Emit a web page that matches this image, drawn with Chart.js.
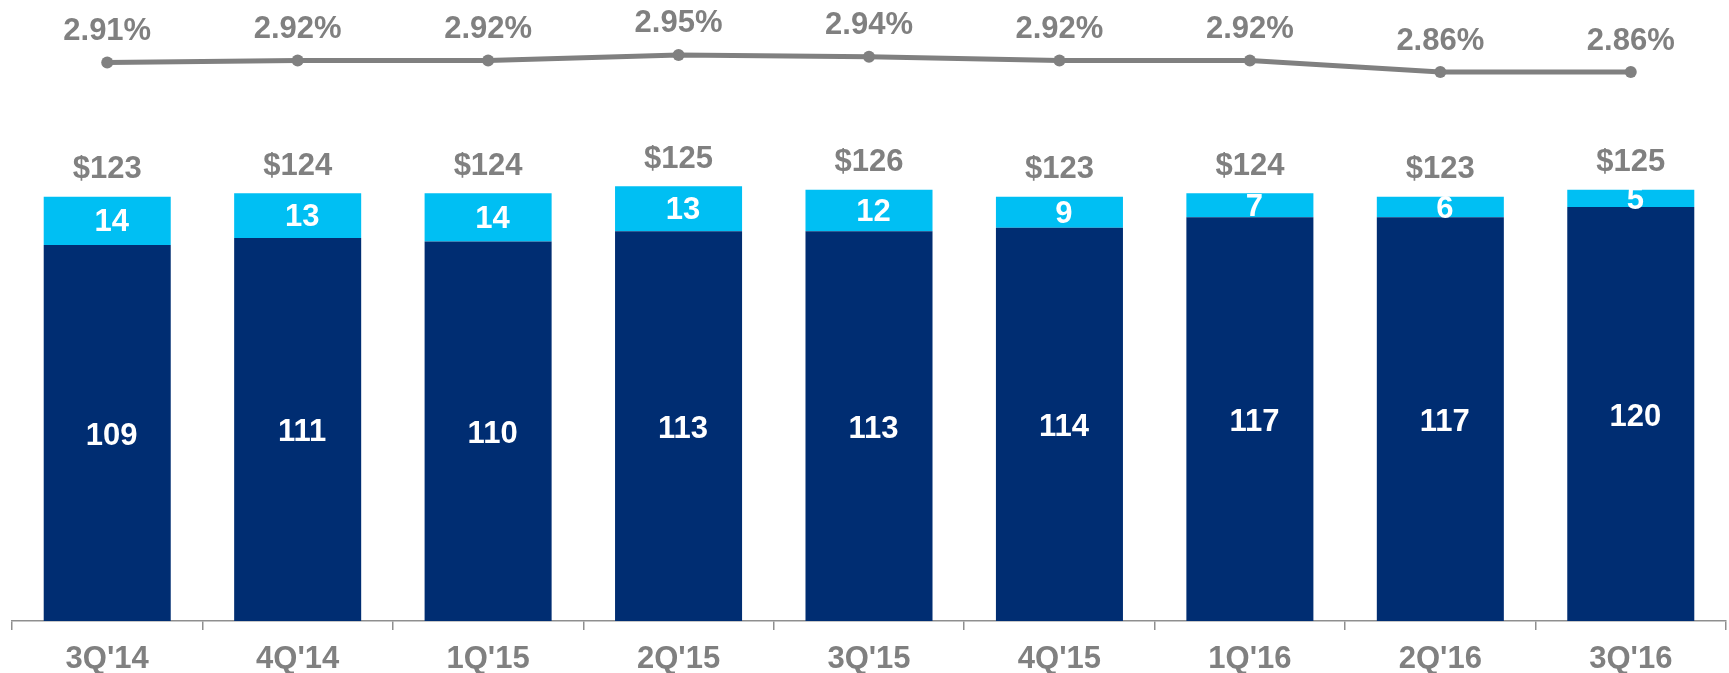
<!DOCTYPE html>
<html>
<head>
<meta charset="utf-8">
<script src="https://cdn.jsdelivr.net/npm/chart.js@4/dist/chart.umd.min.js"></script>
<style>
  html, body { margin: 0; padding: 0; background: #ffffff; overflow: hidden; }
  canvas { display: block; }
</style>
</head>
<body>
<canvas id="c" width="1729" height="673"></canvas>
<script>
// ---- Data ----
const categories = ["3Q'14", "4Q'14", "1Q'15", "2Q'15", "3Q'15", "4Q'15", "1Q'16", "2Q'16", "3Q'16"];
const darkValues = [109, 111, 110, 113, 113, 114, 117, 117, 120];
const lightValues = [14, 13, 14, 13, 12, 9, 7, 6, 5];
const totalLabels = [123, 124, 124, 125, 126, 123, 124, 123, 125];
const rateValues = [2.91, 2.92, 2.92, 2.95, 2.94, 2.92, 2.92, 2.86, 2.86];

// ---- Styles ----
const DARK = '#002D72';
const LIGHT = '#00BFF3';
const GRAY = '#808080';
const FONT_FAMILY = "'Liberation Sans', Arial, sans-serif";
const FONT_SIZE = 31;

const labelPlugin = {
  id: 'valueLabels',
  afterDatasetsDraw(chart) {
    const ctx = chart.ctx;
    const darkMeta = chart.getDatasetMeta(0);
    const lightMeta = chart.getDatasetMeta(1);
    const lineMeta = chart.getDatasetMeta(2);
    ctx.save();
    ctx.font = 'bold ' + FONT_SIZE + 'px ' + FONT_FAMILY;
    ctx.textAlign = 'center';
    ctx.textBaseline = 'middle';
    categories.forEach((c, i) => {
      const d = darkMeta.data[i];
      const l = lightMeta.data[i];
      const p = lineMeta.data[i];
      // segment labels (white)
      ctx.fillStyle = '#ffffff';
      ctx.fillText(String(darkValues[i]), d.x + 4.5, (d.y + d.base) / 2 + 3);
      ctx.fillText(String(lightValues[i]), l.x + 4.5, (l.y + l.base) / 2 + 2);
      // total labels (gray)
      ctx.fillStyle = GRAY;
      ctx.fillText('$' + totalLabels[i], l.x, l.y - 27);
      // rate labels
      ctx.fillText(rateValues[i].toFixed(2) + '%', p.x, p.y - 31);
    });
    ctx.restore();
  }
};

new Chart(document.getElementById('c'), {
  data: {
    labels: categories,
    datasets: [
      {
        type: 'bar',
        data: darkValues,
        backgroundColor: DARK,
        borderWidth: 0,
        yAxisID: 'y',
        stack: 's',
        order: 2,
        barPercentage: 1,
        categoryPercentage: 0.667
      },
      {
        type: 'bar',
        data: lightValues,
        backgroundColor: LIGHT,
        borderWidth: 0,
        yAxisID: 'y',
        stack: 's',
        order: 2,
        barPercentage: 1,
        categoryPercentage: 0.667
      },
      {
        type: 'line',
        data: rateValues,
        borderColor: GRAY,
        backgroundColor: GRAY,
        borderWidth: 5,
        pointRadius: 6,
        pointBackgroundColor: GRAY,
        pointBorderWidth: 0,
        tension: 0,
        fill: false,
        yAxisID: 'y1',
        order: 0
      }
    ]
  },
  options: {
    responsive: false,
    animation: false,
    devicePixelRatio: 1,
    layout: { autoPadding: false, padding: { left: 12, right: 3, top: 0, bottom: 0 } },
    plugins: {
      legend: { display: false },
      tooltip: { enabled: false }
    },
    scales: {
      x: {
        stacked: true,
        offset: true,
        grid: {
          display: true,
          drawOnChartArea: false,
          drawTicks: true,
          offset: true,
          tickLength: 9,
          color: '#8f8f8f',
          lineWidth: 1.5
        },
        border: { display: true, color: '#8f8f8f', width: 1.5 },
        ticks: {
          color: GRAY,
          padding: 11,
          font: { family: FONT_FAMILY, size: FONT_SIZE, weight: 'bold' },
          maxRotation: 0,
          autoSkip: false
        },
        afterFit(scale) { scale.height = 52; }
      },
      y: {
        display: false,
        stacked: true,
        min: 0,
        max: 180
      },
      y1: {
        display: false,
        position: 'right',
        min: -0.0295,
        max: 3.2389,
        grid: { drawOnChartArea: false }
      }
    }
  },
  plugins: [labelPlugin]
});
</script>
</body>
</html>
